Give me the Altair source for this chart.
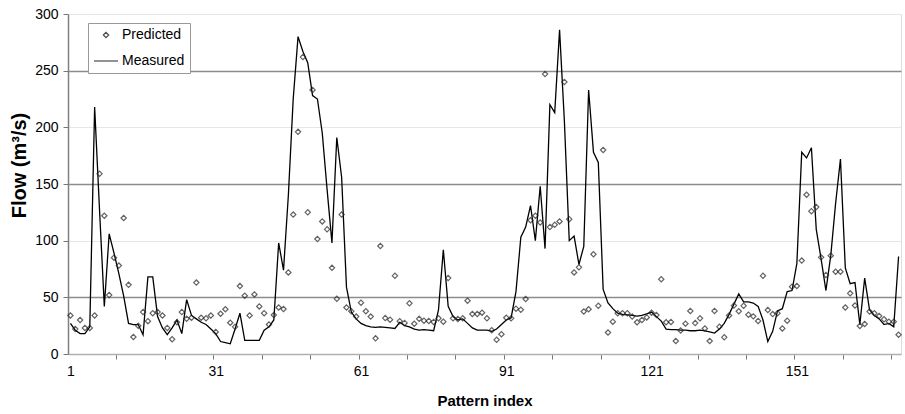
import altair as alt
import pandas as pd

measured = [27, 21, 18, 18, 24, 218, 128, 42, 106, 89,
            71, 51, 27, 26, 26, 17, 68, 68, 33, 23,
            17, 23, 30, 18, 48, 34, 31, 28, 26, 22,
            18, 11, 10, 9, 22, 36, 12, 12, 12, 12,
            21, 24, 30, 98, 74, 140, 225, 280, 267, 257,
            228, 225, 195, 145, 98, 191, 156, 59, 37, 31,
            27, 25, 24, 23.5, 24, 23.5, 23, 22.5, 28, 25,
            24, 22, 21, 21.5, 21, 20.5, 39, 92, 42, 33,
            30, 31, 27, 23, 21, 21, 21, 20, 22, 26,
            30, 32, 55, 103, 112, 131, 100, 148, 93, 220,
            213, 286, 205, 100, 104, 79, 95, 233, 178, 169,
            57, 45, 40, 36, 35, 34.5, 34, 33.5, 34, 35.5,
            37, 33, 29, 22, 21.5, 21.5, 21, 21, 20.5, 20.5,
            21, 20.5, 19.5, 18.5, 22, 27, 35, 44, 53, 46,
            46, 45, 42, 30, 11, 20, 38, 40, 55, 56,
            80, 178, 173, 182, 110, 84, 56, 87, 133, 172,
            76, 62, 63, 26, 67, 39, 34, 31, 26, 27,
            24, 86]

predicted = [34, 22, 30, 23, 23, 34, 159, 122, 52, 85,
             78, 120, 61, 15, 25, 37, 29, 36, 37, 34,
             23, 13, 28, 37, 31, 32, 63, 32, 31.5, 34,
             19.5, 35.5, 39.5, 27.6, 24, 60, 51.5, 34, 52.6, 42,
             36, 26, 34.4, 41, 39.7, 72, 123, 196, 262, 125,
             233, 101.5, 117, 110, 76, 48.7, 123, 41, 37.7, 33,
             45.3, 37.7, 33, 13.8, 95.3, 31.7, 30.3, 69, 29, 27.4,
             44.7, 26.7, 31, 29.4, 29.2, 28.3, 31.5, 28.5, 67, 31.5,
             30.8, 31.5, 47, 35.3, 35.3, 36.5, 31.5, 21, 12.5, 17.5,
             32, 31.5, 40, 39, 48.5, 118, 122, 116, 247, 112,
             114, 117, 240, 119, 72, 76.5, 37.5, 39.5, 88, 42.5,
             180, 19, 28.5, 36, 36, 36, 33, 28, 30, 32.3,
             36.5, 34.4, 66, 28, 28.3, 11.5, 20.8, 26.8, 38, 27.3,
             31.5, 22.6, 11.5, 38, 24, 14.7, 34, 42.7, 37.7, 42.5,
             34.7, 33.2, 29.2, 69, 38.8, 35.2, 36, 22.6, 29.4, 59.4,
             60, 82.4, 140.5, 126, 129.7, 85.3, 69.7, 86.8, 72.6, 72.6,
             41, 53.5, 42.8, 24.7, 26.5, 37.4, 35.9, 33.5, 30.6, 28.5,
             28.5, 17]

pattern_index = list(range(1, len(measured) + 1))
x_label_values = [1, 31, 61, 91, 121, 151]
x_tick_values = [10.5, 20.5, 30.5, 40.5, 50.5, 60.5, 70.5, 80.5, 90.5,
                 100.5, 110.5, 120.5, 130.5, 140.5, 150.5, 160.5, 170.5]
y_values = [0, 50, 100, 150, 200, 250, 300]
series_names = ["Predicted", "Measured"]

df = pd.DataFrame({"index": pattern_index, "Measured": measured, "Predicted": predicted})
long = df.melt("index", var_name="series", value_name="flow")

FONT = "Liberation Sans"

x_enc = alt.X(
    "index:Q",
    scale=alt.Scale(domain=[0.5, 172.5], nice=False, zero=False),
    axis=alt.Axis(
        values=x_label_values + x_tick_values,
        labelExpr="datum.value % 1 == 0 ? datum.label : ''",
        tickOpacity={"condition": {"test": "datum.value % 1 == 0", "value": 0}, "value": 1},
        tickSize=5, tickColor="#777777", tickWidth=1,
        labelFontSize=14, labelPadding=5, labelColor="black", labelOverlap=False,
        labelFont=FONT,
        domainColor="#b0b0b0", domainWidth=1.5,
        grid=False,
        title="Pattern index", titleFontSize=15, titleFontWeight="bold",
        titleFont=FONT, titleColor="black", titlePadding=15,
    ),
)
y_enc = alt.Y(
    "flow:Q",
    scale=alt.Scale(domain=[0, 300], nice=False),
    axis=alt.Axis(
        values=y_values,
        tickSize=5, tickColor="#777777",
        labelFontSize=14, labelPadding=5, labelColor="black", labelFont=FONT,
        domainColor="#808080", domainWidth=1.5,
        grid=True,
        gridColor={"condition": {"test": "datum.value % 100 == 50", "value": "#8c8c8c"}, "value": "#e6e6e6"},
        gridWidth={"condition": {"test": "datum.value % 100 == 50", "value": 1.5}, "value": 1},
        title="Flow (m³/s)", titleFontSize=20, titleFontWeight="bold",
        titleFont=FONT, titleColor="black", titlePadding=5,
        titleY=151,
    ),
)

legend_opts = dict(
    title=None, orient="none", legendX=20, legendY=9,
    fillColor="white", strokeColor="#999999", padding=5,
    labelFontSize=14, labelFont=FONT, labelColor="black", labelOffset=3,
    symbolStrokeColor="black", symbolStrokeWidth=1.2, rowPadding=6,
)

base = alt.Chart(long)

line = base.transform_filter(alt.datum.series == "Measured").mark_line(
    color="black", strokeWidth=1.3
).encode(x=x_enc, y=y_enc)

points = base.transform_filter(alt.datum.series == "Predicted").mark_point(
    filled=False, color="#222222", strokeWidth=1.2
).encode(
    x=x_enc,
    y=y_enc,
    shape=alt.Shape(
        "series:N",
        scale=alt.Scale(domain=series_names, range=["diamond", "stroke"]),
        legend=alt.Legend(**legend_opts),
    ),
    size=alt.Size(
        "series:N",
        scale=alt.Scale(domain=series_names, range=[28, 576]),
        legend=alt.Legend(**legend_opts),
    ),
)

chart = alt.layer(line, points).properties(
    width=833, height=340,
    autosize=alt.AutoSizeParams(type="none"),
    padding={"left": 68, "top": 14, "right": 4, "bottom": 60},
).configure_view(
    stroke="#d8d8d8", strokeWidth=2
).configure(font=FONT, background="white")

chart.save("out.html", embed_options={"renderer": "svg", "actions": False})
